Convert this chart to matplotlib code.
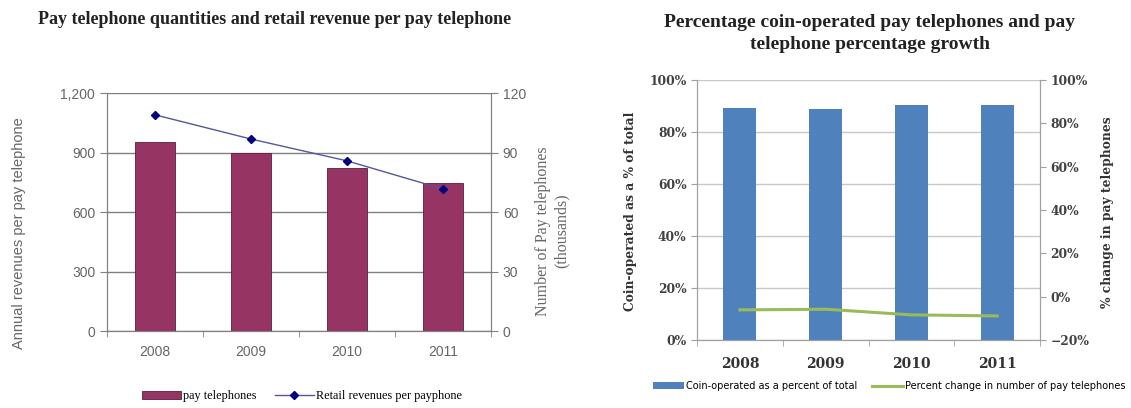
import matplotlib
matplotlib.use("Agg")
import matplotlib.pyplot as plt
from matplotlib.ticker import FuncFormatter, PercentFormatter
import numpy as np

# Data
years = ["2008", "2009", "2010", "2011"]
pay_phones_thousands = [95.3, 89.7, 82.2, 74.6]
revenue_per_phone = [1090, 968, 858, 716]
coin_operated_pct = [89.3, 88.7, 90.6, 90.6]
pct_change_phones = [-6.1, -5.8, -8.4, -8.9]

MAROON = "#963463"
NAVY = "#000080"
BLUE = "#4F81BD"
GREEN = "#9BBB59"

fig = plt.figure(figsize=(11.31, 4.08), dpi=100)
x = np.arange(len(years))

# ---- left chart: pay phone counts and revenue ----
ax1 = fig.add_axes([0.0946, 0.1887, 0.3395, 0.5833])
ax1b = ax1.twinx()
ax1.set_zorder(ax1b.get_zorder() + 1)
ax1.patch.set_visible(False)

bars1 = ax1b.bar(x, pay_phones_thousands, width=0.41, color=MAROON,
                 edgecolor="#5a1d3a", linewidth=0.6, label="pay telephones")
line1, = ax1.plot(x, revenue_per_phone, color="#5555a0", linewidth=1.0,
                  marker="D", markersize=4.5, markerfacecolor=NAVY,
                  markeredgecolor=NAVY, label="Retail revenues per payphone")

ax1.set_xlim(-0.5, 3.5)
ax1.set_ylim(0, 1200)
ax1b.set_ylim(0, 120)
ax1.set_yticks(range(0, 1201, 300))
ax1b.set_yticks(range(0, 121, 30))
ax1.yaxis.set_major_formatter(FuncFormatter(lambda v, p: f"{int(v):,}"))
ax1b.yaxis.grid(True, color="#808080", linewidth=1.0)
ax1b.set_axisbelow(True)

ax1.set_xticks(x)
ax1.set_xticklabels(years)
ax1.set_xticks(np.arange(-0.5, 4.0, 1.0), minor=True)
ax1.tick_params(axis="x", which="major", length=0, pad=10)
ax1.tick_params(axis="x", which="minor", length=4, color="#808080", direction="out")

for a in (ax1, ax1b):
    a.spines["top"].set_visible(False)
    for s in ("left", "right", "bottom"):
        a.spines[s].set_color("#808080")
    a.tick_params(axis="y", length=5, color="#808080", labelcolor="#666666",
                  labelsize=10)
for lab in ax1.get_xticklabels():
    lab.set_fontsize(10)
    lab.set_color("#666666")
for lab in ax1.get_yticklabels() + ax1b.get_yticklabels():
    lab.set_family("Liberation Sans")
for lab in ax1.get_xticklabels():
    lab.set_family("Liberation Sans")

ax1.set_ylabel("Annual revenues per pay telephone", fontsize=10.5,
               color="#666666", family="Liberation Sans")
ax1.yaxis.set_label_coords(-0.212, 0.41)
ax1b.set_ylabel("Number of Pay telephones\n(thousands)", fontsize=11.5,
                color="#666666", family="Liberation Serif", linespacing=1.25)
ax1b.yaxis.set_label_coords(1.115, 0.42)

fig.text(0.243, 0.953, "Pay telephone quantities and retail revenue per pay telephone",
         ha="center", va="center", fontsize=13, fontweight="bold",
         family="Liberation Serif", color="#222222")

fig.legend([bars1, line1], ["pay telephones", "Retail revenues per payphone"],
           loc="center", bbox_to_anchor=(0.267, 0.029), ncol=2, frameon=False,
           prop={"family": "Liberation Serif", "size": 8.8}, handlelength=3.2,
           columnspacing=1.5, handletextpad=0.2)

# ---- right chart: coin-operated share and growth ----
ax2 = fig.add_axes([0.6163, 0.1667, 0.3033, 0.637])
ax2b = ax2.twinx()

bars2 = ax2.bar(x, coin_operated_pct, width=0.385, color=BLUE,
                label="Coin-operated as a percent of total")
line2, = ax2b.plot(x, pct_change_phones, color=GREEN, linewidth=2.2,
                   label="Percent change in number of pay telephones")

ax2.set_xlim(-0.5, 3.5)
ax2.set_ylim(0, 100)
ax2b.set_ylim(-20, 100)
ax2.set_yticks(range(0, 101, 20))
ax2b.set_yticks(range(-20, 101, 20))
ax2.yaxis.set_major_formatter(PercentFormatter(decimals=0))
ax2b.yaxis.set_major_formatter(PercentFormatter(decimals=0))
ax2.yaxis.grid(True, color="#c8c8c8", linewidth=1.0)
ax2.set_axisbelow(True)

ax2.set_xticks(x)
ax2.set_xticklabels(years)
ax2.set_xticks(np.arange(-0.5, 4.0, 1.0), minor=True)
ax2.tick_params(axis="x", which="major", length=0, pad=12)
ax2.tick_params(axis="x", which="minor", length=4, color="#a0a0a0", direction="out")

for a in (ax2, ax2b):
    a.spines["top"].set_visible(False)
    for s in ("left", "right", "bottom"):
        a.spines[s].set_color("#a0a0a0")
    a.tick_params(axis="y", length=4, color="#a0a0a0", labelcolor="#404040",
                  labelsize=8.8)
for lab in ax2.get_yticklabels() + ax2b.get_yticklabels():
    lab.set_family("DejaVu Serif")
    lab.set_fontweight("bold")
for lab in ax2.get_xticklabels():
    lab.set_family("DejaVu Serif")
    lab.set_fontweight("bold")
    lab.set_fontsize(10)
    lab.set_color("#333333")

ax2.set_ylabel("Coin-operated as a % of total", fontsize=8.8, fontweight="bold",
               family="DejaVu Serif", color="#333333")
ax2.yaxis.set_label_coords(-0.175, 0.495)
ax2b.set_ylabel("% change in pay telephones", fontsize=8.8, fontweight="bold",
                family="DejaVu Serif", color="#333333")
ax2b.yaxis.set_label_coords(1.178, 0.49)

fig.text(0.769, 0.917, "Percentage coin-operated pay telephones and pay\ntelephone percentage growth",
         ha="center", va="center", fontsize=14, fontweight="bold",
         family="Liberation Serif", color="#222222", linespacing=1.4)

fig.legend([bars2, line2], ["Coin-operated as a percent of total",
                            "Percent change in number of pay telephones"],
           loc="center", bbox_to_anchor=(0.786, 0.054), ncol=2, frameon=False,
           prop={"family": "DejaVu Sans", "size": 7}, handlelength=3.2,
           columnspacing=1.5, handletextpad=0.2)

fig.savefig("out.png", dpi=100)
